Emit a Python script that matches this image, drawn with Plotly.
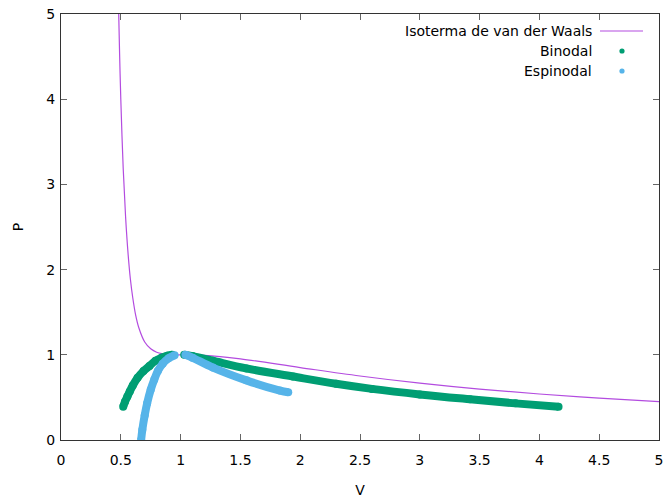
import plotly.graph_objects as go

# Isoterma de van der Waals
iso_v = [0.48, 0.49, 0.50, 0.52, 0.54, 0.56, 0.58, 0.60, 0.625, 0.65, 0.70, 0.75, 0.80, 0.90,
         1.0, 1.2, 1.5, 2.0, 2.5, 3.0, 3.5, 4.0, 4.5, 5.0]
iso_p = [5.16, 4.53, 4.00, 3.19, 2.62, 2.20, 1.89, 1.67, 1.46, 1.32, 1.15, 1.07, 1.03, 1.002,
         1.0, 0.994, 0.952, 0.85, 0.751, 0.667, 0.597, 0.540, 0.492, 0.451]

# Binodal: liquid branch and gas branch
bin_liq_v = [0.52, 0.535, 0.555, 0.575, 0.60, 0.64, 0.69, 0.74, 0.79, 0.84, 0.89, 0.93]
bin_liq_p = [0.39, 0.45, 0.51, 0.57, 0.64, 0.73, 0.81, 0.87, 0.93, 0.965, 0.99, 1.0]
bin_gas_v = [1.03, 1.10, 1.27, 1.55, 1.94, 2.30, 2.60, 3.00, 3.42, 3.80, 4.16]
bin_gas_p = [1.0, 0.985, 0.93, 0.84, 0.745, 0.66, 0.60, 0.535, 0.478, 0.43, 0.39]

# Espinodal: two branches
esp_l_v = [0.67, 0.68, 0.70, 0.72, 0.75, 0.78, 0.81, 0.85, 0.90, 0.95]
esp_l_p = [0.0, 0.12, 0.29, 0.43, 0.59, 0.71, 0.81, 0.895, 0.96, 0.995]
esp_r_v = [1.04, 1.10, 1.27, 1.55, 1.83, 1.90]
esp_r_p = [1.0, 0.965, 0.85, 0.70, 0.58, 0.56]

legend_labels = ["Isoterma de van der Waals", "Binodal", "Espinodal"]

PURPLE = "#9400d3"
GREEN = "#009e73"
BLUE = "#56b4e9"
FONT = "DejaVu Sans"
FS = 14

fig = go.Figure()

fig.add_trace(go.Scatter(x=iso_v, y=iso_p, mode="lines", line=dict(color=PURPLE, width=1.2, shape="spline"),
                         opacity=0.7, showlegend=False, cliponaxis=True))

for xs, ys in [(bin_liq_v, bin_liq_p), (bin_gas_v, bin_gas_p)]:
    fig.add_trace(go.Scatter(x=xs, y=ys, mode="lines+markers",
                             line=dict(color=GREEN, width=8, shape="spline"),
                             marker=dict(color=GREEN, size=8), showlegend=False))
for xs, ys in [(esp_l_v, esp_l_p), (esp_r_v, esp_r_p)]:
    fig.add_trace(go.Scatter(x=xs, y=ys, mode="lines+markers",
                             line=dict(color=BLUE, width=8, shape="spline"),
                             marker=dict(color=BLUE, size=8), showlegend=False))

# gnuplot-style legend (text right-aligned, sample on the right)
ys_leg = [31, 51, 71]
anns = []
shapes = []
for i, lab in enumerate(legend_labels):
    yp = 1 - (ys_leg[i] - 14) / 426
    anns.append(dict(text=lab, x=(594 - 61) / 598, y=yp, xref="paper", yref="paper",
                     xanchor="right", yanchor="middle", showarrow=False,
                     font=dict(family=FONT, size=FS, color="black")))
yp0 = 1 - (ys_leg[0] - 14) / 426
shapes.append(dict(type="line", xref="paper", yref="paper",
                   x0=(600 - 61) / 598, x1=(643 - 61) / 598, y0=yp0, y1=yp0,
                   line=dict(color=PURPLE, width=1.2), opacity=0.7))
for i, col in [(1, GREEN), (2, BLUE)]:
    yp = 1 - (ys_leg[i] - 14) / 426
    cx = (622 - 61) / 598
    rx = 2.6 / 598
    ry = 2.6 / 426
    shapes.append(dict(type="circle", xref="paper", yref="paper",
                       x0=cx - rx, x1=cx + rx, y0=yp - ry, y1=yp + ry,
                       fillcolor=col, line=dict(color=col, width=0)))

axis_common = dict(showgrid=False, zeroline=False, showline=True, linecolor="#333333", linewidth=1,
                   mirror="ticks", ticks="inside", ticklen=6, tickcolor="#666666", tickwidth=1,
                   automargin=False,
                   tickfont=dict(family=FONT, size=FS, color="black"))

fig.update_layout(
    width=664, height=500,
    margin=dict(l=61, r=5, t=14, b=60),
    paper_bgcolor="white", plot_bgcolor="white",
    xaxis=dict(range=[0, 5], dtick=0.5, tick0=0, ticklabelstandoff=7,
               title=dict(text="V", font=dict(family=FONT, size=FS, color="black"), standoff=18),
               **axis_common),
    yaxis=dict(range=[0, 5], dtick=1, tick0=0, ticklabelstandoff=2,
               title=dict(text="P", font=dict(family=FONT, size=FS, color="black"), standoff=19),
               **axis_common),
    annotations=anns, shapes=shapes, showlegend=False,
)

fig.write_html("out.html")
